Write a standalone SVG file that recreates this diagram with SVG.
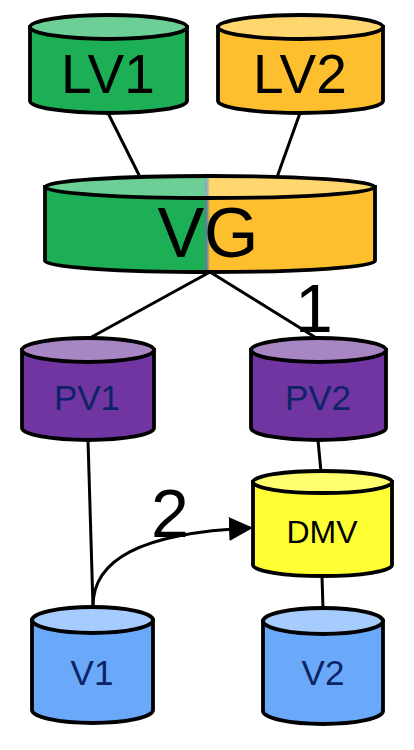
<svg xmlns="http://www.w3.org/2000/svg" width="414" height="750" viewBox="0 0 414 750">
<style>
.o{stroke:#000;stroke-width:3.8;}
.c{stroke:#000;stroke-width:3;fill:none;}
.t{font-family:"Liberation Sans",Arial,sans-serif;text-anchor:middle;}
.big{fill:#000;}
.sm{fill:#0c2466;}
</style>
<defs>
<linearGradient id="vgb" x1="45" y1="0" x2="375" y2="0" gradientUnits="userSpaceOnUse">
<stop offset="0" stop-color="#1daf55"/><stop offset="0.48" stop-color="#1daf55"/><stop offset="0.49" stop-color="#5a7fa0"/><stop offset="0.5" stop-color="#fdbf2d"/><stop offset="1" stop-color="#fdbf2d"/>
</linearGradient>
<linearGradient id="vgt" x1="45" y1="0" x2="375" y2="0" gradientUnits="userSpaceOnUse">
<stop offset="0" stop-color="#6bcf96"/><stop offset="0.48" stop-color="#6bcf96"/><stop offset="0.49" stop-color="#8aa8c0"/><stop offset="0.5" stop-color="#ffd76e"/><stop offset="1" stop-color="#ffd76e"/>
</linearGradient>
<marker id="ah" markerWidth="8" markerHeight="8" refX="7" refY="4" orient="auto" markerUnits="strokeWidth">
<path d="M0,0 L8,4 L0,8 Z" fill="#000"/>
</marker>
</defs>
<g id="connectors">
<line class="c" x1="108" y1="113" x2="142" y2="181"/>
<line class="c" x1="300" y1="113" x2="276" y2="180"/>
<line class="c" x1="210" y1="272" x2="88" y2="339"/>
<line class="c" x1="210" y1="272" x2="318" y2="339"/>
<line class="c" x1="88" y1="440" x2="93" y2="607"/>
<line class="c" x1="318" y1="440" x2="321" y2="472"/>
<line class="c" x1="322" y1="577" x2="323" y2="608"/>
<path class="c" d="M93,606 C93,560 140,533 250,528" marker-end="url(#ah)"/>
<text class="t big" x="314" y="332" font-size="68">1</text>
<text class="t big" x="170" y="537" font-size="68">2</text>
</g>
<g id="LV1">
<path class="o" fill="#1daf55" d="M30,27 L30,101 A78.5,12 0 0 0 187,101 L187,27 Z"/>
<ellipse class="o" fill="#6bcf96" cx="108.5" cy="27" rx="78.5" ry="12"/>
<text class="t big" x="108" y="93" font-size="55">LV1</text>
</g>
<g id="LV2">
<path class="o" fill="#fdbf2d" d="M218,27 L218,101 A82.5,12 0 0 0 383,101 L383,27 Z"/>
<ellipse class="o" fill="#ffd76e" cx="300.5" cy="27" rx="82.5" ry="12"/>
<text class="t big" x="300" y="93" font-size="55">LV2</text>
</g>
<g id="VG">
<path class="o" fill="url(#vgb)" d="M45,187 L45,261 A165,11 0 0 0 375,261 L375,187 Z"/>
<ellipse class="o" fill="url(#vgt)" cx="210" cy="187" rx="165" ry="11"/>
<text class="t big" x="208" y="257" font-size="70">VG</text>
</g>
<g id="PV1">
<path class="o" fill="#7035a0" d="M22,350 L22,428 A66,12 0 0 0 154,428 L154,350 Z"/>
<ellipse class="o" fill="#a886c4" cx="88" cy="350" rx="66" ry="12"/>
<text class="t sm" x="87" y="410" font-size="35">PV1</text>
</g>
<g id="PV2">
<path class="o" fill="#7035a0" d="M251,350 L251,428 A67.5,12 0 0 0 386,428 L386,350 Z"/>
<ellipse class="o" fill="#a886c4" cx="318.5" cy="350" rx="67.5" ry="12"/>
<text class="t sm" x="318" y="410" font-size="35">PV2</text>
</g>
<g id="DMV">
<path class="o" fill="#ffff33" d="M253,482 L253,565 A69.5,11 0 0 0 392,565 L392,482 Z"/>
<ellipse class="o" fill="#ffff70" cx="322.5" cy="482" rx="69.5" ry="11"/>
<text class="t" fill="#000" x="322" y="543" font-size="32">DMV</text>
</g>
<g id="V1">
<path class="o" fill="#6aa8fa" d="M32,620 L32,710 A60.5,13 0 0 0 153,710 L153,620 Z"/>
<ellipse class="o" fill="#a6cbfd" cx="92.5" cy="620" rx="60.5" ry="13"/>
<text class="t sm" x="92" y="685" font-size="35">V1</text>
</g>
<g id="V2">
<path class="o" fill="#6aa8fa" d="M263,621 L263,711 A60,13 0 0 0 383,711 L383,621 Z"/>
<ellipse class="o" fill="#a6cbfd" cx="323" cy="621" rx="60" ry="13"/>
<text class="t sm" x="323" y="685" font-size="35">V2</text>
</g>
</svg>
